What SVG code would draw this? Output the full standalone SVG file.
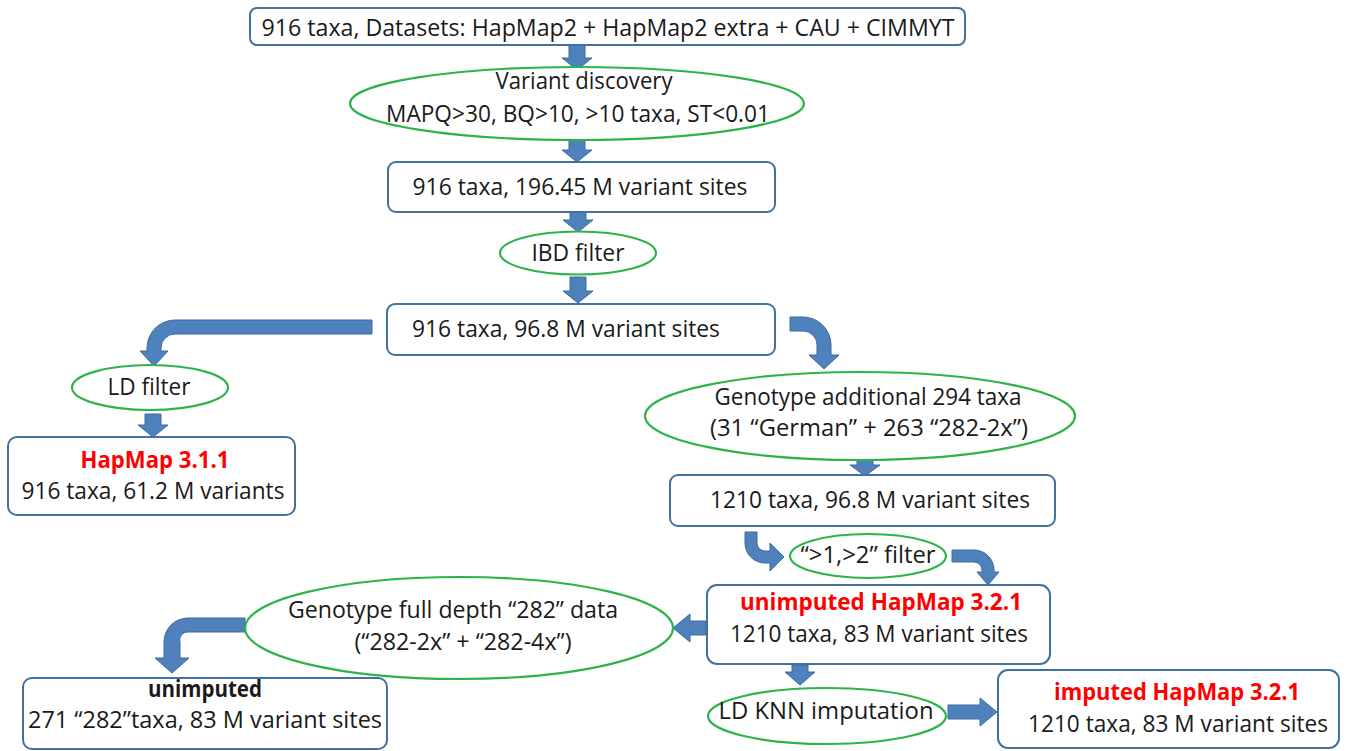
<svg xmlns="http://www.w3.org/2000/svg" width="1348" height="751" viewBox="0 0 1348 751">
<style>
  .box{fill:#fff;stroke:#41719c;stroke-width:2}
  .ell{fill:#fff;stroke:#2db34a;stroke-width:2.2}
  .arr{fill:#4f81bd;stroke:#3c6a9e;stroke-width:1}
  text{font-family:"Open Sans","Noto Sans","Liberation Sans",sans-serif;font-size:23px;fill:#1a1a1a;text-anchor:middle}
  .red{fill:#ff0000;font-weight:bold}
  .bold{font-weight:bold}
</style>
<rect width="1348" height="751" fill="#fff"/>
<g id="connectors">
  <path class="arr" d="M569,45 H585 V58 H592 L577,70 L562,58 H569 Z"/>
  <path class="arr" d="M569,140 H585 V150 H592 L577,162 L562,150 H569 Z"/>
  <path class="arr" d="M570,212 H586 V220 H593 L578,232 L563,220 H570 Z"/>
  <path class="arr" d="M570,277 H586 V291 H593 L578,303 L563,291 H570 Z"/>
  <path class="arr" d="M372,320 H175 A28,28 0 0 0 147,348 V351 H140 L154,366 L168,351 H161 V348 A14,14 0 0 1 175,334 H372 Z"/>
  <path class="arr" d="M790,317 H803 A28,28 0 0 1 831,345 V355 H839 L824,369 L809,355 H817 V345 A14,14 0 0 0 803,331 H790 Z"/>
  <path class="arr" d="M145,414 H161 V425 H168 L153,437 L138,425 H145 Z"/>
  <path class="arr" d="M857,460 H873 V465 H880 L865,476 L850,465 H857 Z"/>
  <path class="arr" d="M745,532 H757 V543 A8,8 0 0 0 765,551 H770 V543 L784,557 L770,571 V563 H765 A20,20 0 0 1 745,543 Z"/>
  <path class="arr" d="M952,550 H974 A20,20 0 0 1 994,570 V572 H999 L988,585 L977,572 H982 V570 A8,8 0 0 0 974,562 H952 Z"/>
  <path class="arr" d="M706,621 V635 H690 V642 L673,628 L690,614 V621 Z"/>
  <path class="arr" d="M245,618 H188 A24,24 0 0 0 164,642 V658 H155 L172,673 L189,658 H180 V642 A8,8 0 0 1 188,632 H245 Z"/>
  <path class="arr" d="M792,665 H808 V672 H815 L800,685 L785,672 H792 Z"/>
  <path class="arr" d="M948,705 H980 V698 L997,712 L980,726 V719 H948 Z"/>
</g>
<g id="n_datasets">
  <rect class="box" x="250" y="8" width="715" height="37" rx="7"/>
  <text x="608" y="36" textLength="693" lengthAdjust="spacingAndGlyphs">916 taxa, Datasets: HapMap2 + HapMap2 extra + CAU + CIMMYT</text>
</g>
<g id="n_variant_discovery">
  <ellipse class="ell" cx="577" cy="103.5" rx="227" ry="36.5"/>
  <text x="584" y="89" textLength="177" lengthAdjust="spacingAndGlyphs">Variant discovery</text>
  <text x="578" y="122" textLength="384" lengthAdjust="spacingAndGlyphs">MAPQ&gt;30, BQ&gt;10, &gt;10 taxa, ST&lt;0.01</text>
</g>
<g id="n_196">
  <rect class="box" x="388" y="162" width="387" height="50" rx="8"/>
  <text x="580" y="195" textLength="335" lengthAdjust="spacingAndGlyphs">916 taxa, 196.45 M variant sites</text>
</g>
<g id="n_ibd">
  <ellipse class="ell" cx="578" cy="253" rx="78" ry="21.5"/>
  <text x="578" y="261" textLength="93" lengthAdjust="spacingAndGlyphs">IBD filter</text>
</g>
<g id="n_96">
  <rect class="box" x="387" y="304" width="388" height="51" rx="8"/>
  <text x="412" y="337" style="text-anchor:start" textLength="308" lengthAdjust="spacingAndGlyphs">916 taxa, 96.8 M variant sites</text>
</g>
<g id="n_ld_filter">
  <ellipse class="ell" cx="150" cy="387.5" rx="78" ry="22.5"/>
  <text x="149" y="395" textLength="83" lengthAdjust="spacingAndGlyphs">LD filter</text>
</g>
<g id="n_hapmap311">
  <rect class="box" x="8" y="437" width="287" height="78" rx="9"/>
  <text class="red" x="155" y="468" textLength="149" lengthAdjust="spacingAndGlyphs">HapMap 3.1.1</text>
  <text x="153" y="499" textLength="263" lengthAdjust="spacingAndGlyphs">916 taxa, 61.2 M variants</text>
</g>
<g id="n_genotype_additional">
  <ellipse class="ell" cx="860" cy="416" rx="215" ry="44"/>
  <text x="868" y="405" textLength="307" lengthAdjust="spacingAndGlyphs">Genotype additional 294 taxa</text>
  <text x="869" y="436" textLength="318" lengthAdjust="spacingAndGlyphs">(31 “German” + 263 “282-2x”)</text>
</g>
<g id="n_1210_968">
  <rect class="box" x="670" y="475" width="385" height="51" rx="8"/>
  <text x="870" y="508" textLength="320" lengthAdjust="spacingAndGlyphs">1210 taxa, 96.8 M variant sites</text>
</g>
<g id="n_12_filter">
  <ellipse class="ell" cx="868" cy="556" rx="78" ry="22"/>
  <text x="868" y="563" textLength="135" lengthAdjust="spacingAndGlyphs">“&gt;1,&gt;2” filter</text>
</g>
<g id="n_unimputed_321">
  <rect class="box" x="707" y="585" width="343" height="79" rx="10"/>
  <text class="red" x="881" y="610" textLength="282" lengthAdjust="spacingAndGlyphs">unimputed HapMap 3.2.1</text>
  <text x="879" y="642" textLength="298" lengthAdjust="spacingAndGlyphs">1210 taxa, 83 M variant sites</text>
</g>
<g id="n_genotype_full">
  <ellipse class="ell" cx="459" cy="628" rx="214" ry="51"/>
  <text x="453" y="618" textLength="330" lengthAdjust="spacingAndGlyphs">Genotype full depth “282” data</text>
  <text x="463" y="650" textLength="217" lengthAdjust="spacingAndGlyphs">(“282-2x” + “282-4x”)</text>
</g>
<g id="n_unimputed_271">
  <rect class="box" x="23" y="678" width="364" height="71" rx="9"/>
  <text class="bold" x="205" y="697" textLength="114" lengthAdjust="spacingAndGlyphs">unimputed</text>
  <text x="205" y="728" textLength="354" lengthAdjust="spacingAndGlyphs">271 “282”taxa, 83 M variant sites</text>
</g>
<g id="n_ld_knn">
  <ellipse class="ell" cx="827" cy="716" rx="119" ry="28"/>
  <text x="826" y="719" textLength="215" lengthAdjust="spacingAndGlyphs">LD KNN imputation</text>
</g>
<g id="n_imputed_321">
  <rect class="box" x="998" y="670" width="341" height="78" rx="10"/>
  <text class="red" x="1177" y="700" textLength="246" lengthAdjust="spacingAndGlyphs">imputed HapMap 3.2.1</text>
  <text x="1178" y="732" textLength="300" lengthAdjust="spacingAndGlyphs">1210 taxa, 83 M variant sites</text>
</g>
</svg>
